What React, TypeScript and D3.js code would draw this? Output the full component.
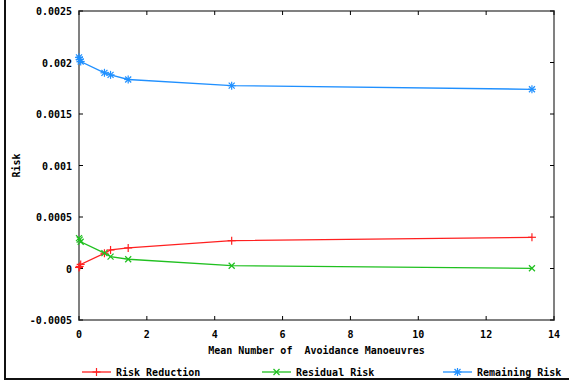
import React, { useRef, useEffect } from "react";
import * as d3 from "d3";

// avoidance manoeuvres (x)
const xValues = [0, 0.02, 0.05, 0.75, 0.93, 1.45, 4.5, 13.35];
const riskReduction = [0.00001, 0.00002, 0.00004, 0.000148, 0.00018, 0.0002, 0.00027, 0.000303];
const residualRisk = [0.000295, 0.00028, 0.00026, 0.00015, 0.000115, 0.00009, 0.000027, 0.000002];
const remainingRisk = [0.00205, 0.00203, 0.00201, 0.0019, 0.00188, 0.001835, 0.001775, 0.00174];

const xTicks = [0, 2, 4, 6, 8, 10, 12, 14];
const yTicks = [-0.0005, 0, 0.0005, 0.001, 0.0015, 0.002, 0.0025];
const yTickLabels = ["-0.0005", "0", "0.0005", "0.001", "0.0015", "0.002", "0.0025"];

const seriesNames = ["Risk Reduction", "Residual Risk", "Remaining Risk"];
const seriesColors = ["#ff2020", "#20c020", "#2090ff"];
const seriesMarkers = ["plus", "cross", "star"];

const FONT = "'DejaVu Sans Mono', monospace";

export default function App() {
    const ref = useRef<SVGSVGElement | null>(null);

    useEffect(() => {
        if (!ref.current) return;
        const svg = d3.select(ref.current);
        svg.selectAll("*").remove();

        const W = 569, H = 385;
        const margin = { top: 11, right: 15, bottom: 65, left: 79 };

        svg.attr("width", W).attr("height", H);

        // outer frame (left + bottom)
        svg.append("line").attr("x1", 5).attr("x2", 5).attr("y1", 0).attr("y2", 379)
            .attr("stroke", "#111").attr("stroke-width", 2);
        svg.append("line").attr("x1", 4).attr("x2", W).attr("y1", 379).attr("y2", 379)
            .attr("stroke", "#111").attr("stroke-width", 2);

        const x = d3.scaleLinear().domain([0, 14]).range([margin.left, W - margin.right]);
        const y = d3.scaleLinear().domain([-0.0005, 0.0025]).range([H - margin.bottom, margin.top]);

        const [x0, x1] = x.range();
        const [y0, y1] = y.range();

        // plot border
        svg.append("rect")
            .attr("x", x0).attr("y", y1)
            .attr("width", x1 - x0).attr("height", y0 - y1)
            .attr("fill", "none").attr("stroke", "#808080").attr("stroke-width", 2);

        const tk = 4;
        // x ticks
        xTicks.forEach((t) => {
            const px = x(t);
            svg.append("line").attr("x1", px).attr("x2", px).attr("y1", y0).attr("y2", y0 - tk).attr("stroke", "#000");
            svg.append("line").attr("x1", px).attr("x2", px).attr("y1", y1).attr("y2", y1 + tk).attr("stroke", "#000");
            svg.append("text").attr("x", px).attr("y", y0 + 18)
                .attr("text-anchor", "middle")
                .style("font-family", FONT).style("font-size", "10px").style("font-weight", "bold")
                .text(String(t));
        });
        // y ticks
        yTicks.forEach((t, i) => {
            const py = y(t);
            svg.append("line").attr("x1", x0).attr("x2", x0 + tk).attr("y1", py).attr("y2", py).attr("stroke", "#000");
            svg.append("line").attr("x1", x1).attr("x2", x1 - tk).attr("y1", py).attr("y2", py).attr("stroke", "#000");
            svg.append("text").attr("x", x0 - 7).attr("y", py + 4)
                .attr("text-anchor", "end")
                .style("font-family", FONT).style("font-size", "10px").style("font-weight", "bold")
                .text(yTickLabels[i]);
        });

        // axis titles
        svg.append("text").attr("x", (x0 + x1) / 2).attr("y", y0 + 34)
            .attr("text-anchor", "middle")
            .style("font-family", FONT).style("font-size", "10px").style("font-weight", "bold")
            .attr("xml:space", "preserve")
            .text("Mean Number of  Avoidance Manoeuvres");
        svg.append("text")
            .attr("transform", `translate(20, ${(y0 + y1) / 2}) rotate(-90)`)
            .attr("text-anchor", "middle")
            .style("font-family", FONT).style("font-size", "10px").style("font-weight", "bold")
            .text("Risk");

        const drawMarker = (g: any, kind: string, cx: number, cy: number, color: string) => {
            const s = 4;
            const segs: number[][] = [];
            if (kind === "plus" || kind === "star") {
                segs.push([cx - s, cy, cx + s, cy], [cx, cy - s, cx, cy + s]);
            }
            if (kind === "cross" || kind === "star") {
                segs.push([cx - s + 1, cy - s + 1, cx + s - 1, cy + s - 1], [cx - s + 1, cy + s - 1, cx + s - 1, cy - s + 1]);
            }
            segs.forEach((sg) => {
                g.append("line").attr("x1", sg[0]).attr("y1", sg[1]).attr("x2", sg[2]).attr("y2", sg[3])
                    .attr("stroke", color).attr("stroke-width", 1.2);
            });
        };

        const allSeries = [riskReduction, residualRisk, remainingRisk];
        const line = d3.line<[number, number]>().x((d) => x(d[0])).y((d) => y(d[1]));

        allSeries.forEach((vals, si) => {
            const pts = xValues.map((xv, i) => [xv, vals[i]] as [number, number]);
            const g = svg.append("g");
            g.append("path").attr("d", line(pts)!)
                .attr("fill", "none").attr("stroke", seriesColors[si]).attr("stroke-width", 1.3);
            pts.forEach((p) => drawMarker(g, seriesMarkers[si], x(p[0]), y(p[1]), seriesColors[si]));
        });

        // legend
        const legendX = [82, 262, 443];
        const ly = 372;
        seriesNames.forEach((name, i) => {
            const lx = legendX[i];
            svg.append("line").attr("x1", lx).attr("x2", lx + 29).attr("y1", ly).attr("y2", ly)
                .attr("stroke", seriesColors[i]).attr("stroke-width", 1.3);
            drawMarker(svg, seriesMarkers[i], lx + 14.5, ly, seriesColors[i]);
            svg.append("text").attr("x", lx + 34).attr("y", ly + 4)
                .style("font-family", FONT).style("font-size", "10px").style("font-weight", "bold")
                .text(name);
        });
    }, []);

    return (
        <div style={{ position: "absolute", left: 0, top: 0 }}>
            <svg ref={ref} style={{ display: "block" }} />
        </div>
    );
}
